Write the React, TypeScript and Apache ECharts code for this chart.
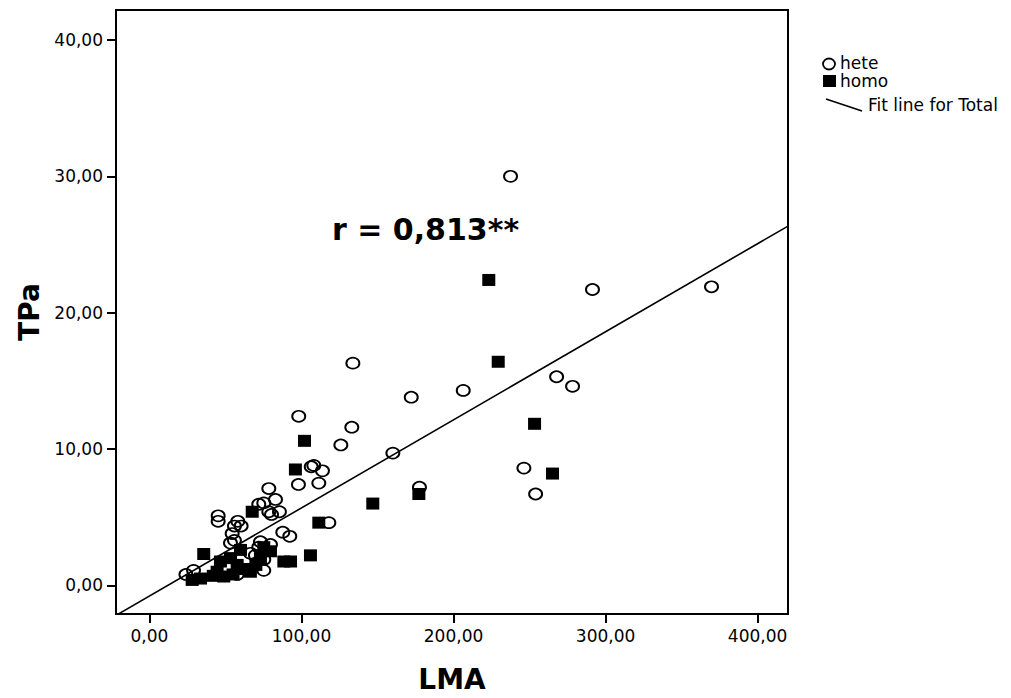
import React, { useEffect, useRef } from "react";
import * as echarts from "echarts";

const heteLMA = [237.5, 291.4, 369.7, 133.8, 267.8, 278.3, 206.4, 172.2, 98.2, 133.1, 125.9, 160.1, 106.4, 108.1, 113.8, 98, 111.4, 246.3, 254, 177.6,
  78.5, 82.9, 71.9, 75.2, 78.5, 85.5, 80.3, 45.2, 45.2, 118, 58.1, 60.3, 55.9, 54.4, 87.7, 92.3, 55.9, 53.3, 73, 79.6, 71.9, 75.2, 75.2, 29, 24, 69.7, 66.4, 57.7];
const heteTPa = [30.0, 21.7, 21.9, 16.3, 15.3, 14.6, 14.3, 13.8, 12.4, 11.6, 10.3, 9.7, 8.7, 8.8, 8.4, 7.4, 7.5, 8.6, 6.7, 7.2,
  7.1, 6.3, 5.95, 6.05, 5.4, 5.4, 5.2, 5.1, 4.7, 4.6, 4.7, 4.35, 4.35, 3.8, 3.9, 3.6, 3.3, 3.1, 3.2, 3.0, 2.8, 1.9, 1.1, 1.1, 0.8, 2.2, 2.35, 0.8];

const homoLMA = [223.2, 229.4, 253.3, 102, 96, 265.1, 177.2, 146.9, 111.4, 67.6, 105.9, 35.7, 28.1, 33.6, 44.5, 48.9, 53.3, 59.9, 75.2, 79.6, 88.4, 92.8, 66.4, 73, 57.7, 46.7, 42, 62, 70, 55];
const homoTPa = [22.4, 16.4, 11.85, 10.6, 8.5, 8.2, 6.7, 6.0, 4.6, 5.4, 2.2, 2.3, 0.4, 0.5, 1.0, 0.65, 2.0, 2.6, 2.8, 2.5, 1.75, 1.75, 1.0, 2.0, 1.5, 1.75, 0.7, 1.2, 1.5, 0.8];

const xTicks = [0, 100, 200, 300, 400];
const yTicks = [0, 10, 20, 30, 40];
const xRange = [-22, 420];
const yRange = [-2.1, 42.2];
const fitIntercept = -0.78;
const fitSlope = 0.0646;
const rLabel = "r = 0,813**";

const fmt = (v: number) => v.toFixed(2).replace(".", ",");

export default function App() {
  const ref = useRef<HTMLDivElement>(null);
  useEffect(() => {
    const chart = echarts.init(ref.current!, null, { renderer: "svg" });
    const font = "DejaVu Sans";
    const hete = heteLMA.map((x, i) => [x, heteTPa[i]]);
    const homo = homoLMA.map((x, i) => [x, homoTPa[i]]);
    const fit = xRange.map((x) => [x, fitIntercept + fitSlope * x]);
    chart.setOption({
      animation: false,
      backgroundColor: "#fff",
      grid: { left: 116, right: 223, top: 10, bottom: 80, show: true, borderColor: "#000", borderWidth: 2, backgroundColor: "transparent" },
      xAxis: {
        type: "value", min: xRange[0], max: xRange[1],
        name: "LMA", nameLocation: "middle", nameGap: 51,
        nameTextStyle: { fontFamily: font, fontWeight: "bold", fontSize: 28, color: "#000" },
        axisLine: { show: true, onZero: false, lineStyle: { color: "#000", width: 2 } },
        axisTick: { show: true, length: 9, customValues: xTicks, lineStyle: { color: "#000", width: 2 } },
        axisLabel: { customValues: xTicks, formatter: (v: number) => fmt(v), margin: 13, fontFamily: font, fontSize: 17, color: "#000" },
        splitLine: { show: false },
      },
      yAxis: {
        type: "value", min: yRange[0], max: yRange[1],
        name: "TPa", nameLocation: "middle", nameGap: 66,
        nameTextStyle: { fontFamily: font, fontWeight: "bold", fontSize: 28, color: "#000" },
        axisLine: { show: true, onZero: false, lineStyle: { color: "#000", width: 2 } },
        axisTick: { show: true, length: 9, customValues: yTicks, lineStyle: { color: "#000", width: 2 } },
        axisLabel: { customValues: yTicks, formatter: (v: number) => fmt(v), margin: 13, fontFamily: font, fontSize: 17, color: "#000" },
        splitLine: { show: false },
      },
      series: [
        {
          name: "Fit line for Total", type: "line", data: fit, symbol: "none", clip: true,
          lineStyle: { color: "#000", width: 1.6 }, z: 1,
        },
        {
          name: "hete", type: "scatter", data: hete, symbol: "circle", symbolSize: [13, 11],
          itemStyle: { color: "rgba(0,0,0,0)", borderColor: "#000", borderWidth: 1.8, opacity: 1 }, z: 2,
        },
        {
          name: "homo", type: "scatter", data: homo, symbol: "rect", symbolSize: [13, 12],
          itemStyle: { color: "#000", opacity: 1 }, z: 3,
        },
      ],
      graphic: [
        { type: "text", left: 332, top: 214, style: { text: rLabel, font: `bold 30px '${font}'`, fill: "#000" } },
        { type: "ellipse", shape: { cx: 829, cy: 64, rx: 6, ry: 5.5 }, style: { fill: "none", stroke: "#000", lineWidth: 1.8 } },
        { type: "text", left: 840, top: 54, style: { text: "hete", font: `17px '${font}'`, fill: "#000" } },
        { type: "rect", shape: { x: 823, y: 75, width: 13, height: 12 }, style: { fill: "#000" } },
        { type: "text", left: 840, top: 72, style: { text: "homo", font: `17px '${font}'`, fill: "#000" } },
        { type: "line", shape: { x1: 826, y1: 99, x2: 862, y2: 111 }, style: { stroke: "#000", lineWidth: 1.6 } },
        { type: "text", left: 868, top: 96, style: { text: "Fit line for Total", font: `17px '${font}'`, fill: "#000" } },
      ],
    });
    return () => chart.dispose();
  }, []);
  return <div ref={ref} style={{ width: 1011, height: 698, position: "absolute", left: 0, top: 0 }} />;
}
